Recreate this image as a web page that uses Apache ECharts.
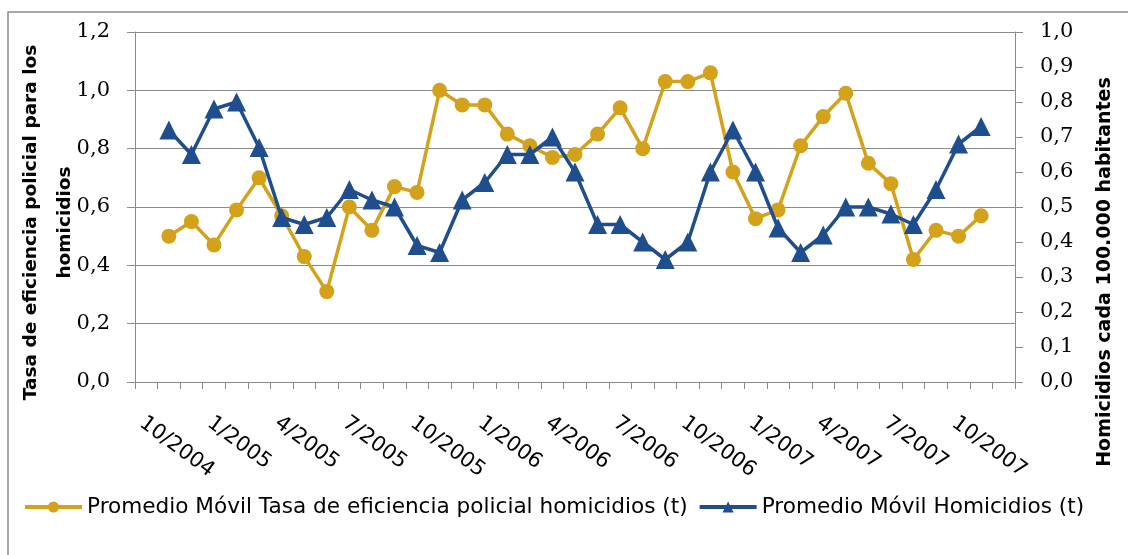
<!DOCTYPE html>
<html>
<head>
<meta charset="utf-8">
<script src="https://cdn.jsdelivr.net/npm/echarts@6/dist/echarts.min.js"></script>
<style>
  html, body { margin: 0; padding: 0; background: #ffffff; }
  #chart { width: 1128px; height: 555px; }
</style>
</head>
<body>
<div id="chart"></div>
<script>
// Monthly categories; the first and last months are empty slots at the axis ends.
const months = [
  '9/2004', '10/2004', '11/2004', '12/2004',
  '1/2005', '2/2005', '3/2005', '4/2005', '5/2005', '6/2005',
  '7/2005', '8/2005', '9/2005', '10/2005', '11/2005', '12/2005',
  '1/2006', '2/2006', '3/2006', '4/2006', '5/2006', '6/2006',
  '7/2006', '8/2006', '9/2006', '10/2006', '11/2006', '12/2006',
  '1/2007', '2/2007', '3/2007', '4/2007', '5/2007', '6/2007',
  '7/2007', '8/2007', '9/2007', '10/2007', '11/2007'
];

// Moving average of the police efficiency rate for homicides (left axis)
const eficiencia = [
  null,
  0.50, 0.55, 0.47, 0.59, 0.70, 0.57, 0.43, 0.31, 0.60, 0.52,
  0.67, 0.65, 1.00, 0.95, 0.95, 0.85, 0.81, 0.77, 0.78, 0.85,
  0.94, 0.80, 1.03, 1.03, 1.06, 0.72, 0.56, 0.59, 0.81, 0.91,
  0.99, 0.75, 0.68, 0.42, 0.52, 0.50, 0.57,
  null
];

// Moving average of homicides per 100,000 inhabitants (right axis)
const homicidios = [
  null,
  0.72, 0.65, 0.78, 0.80, 0.67, 0.47, 0.45, 0.47, 0.55, 0.52,
  0.50, 0.39, 0.37, 0.52, 0.57, 0.65, 0.65, 0.70, 0.60, 0.45,
  0.45, 0.40, 0.35, 0.40, 0.60, 0.72, 0.60, 0.44, 0.37, 0.42,
  0.50, 0.50, 0.48, 0.45, 0.55, 0.68, 0.73,
  null
];

const seriesNames = [
  'Promedio Móvil Tasa de eficiencia policial homicidios (t)',
  'Promedio Móvil Homicidios (t)'
];

const leftAxisName = 'Tasa de eficiencia policial para los\nhomicidios';
const rightAxisName = 'Homicidios cada 100.000 habitantes';

const GOLD = '#D4A11B';
const BLUE = '#1F4E8E';
const GRID_GRAY = '#8a8a8a';

const commaDecimal = v => v.toFixed(1).replace('.', ',');

const chart = echarts.init(document.getElementById('chart'), null, { renderer: 'canvas' });

chart.setOption({
  animation: false,
  backgroundColor: '#ffffff',
  grid: {
    left: 135, right: 113, top: 32, bottom: 173,
    containLabel: false,
    outerBoundsMode: 'none'
  },
  legend: {
    left: 23,
    top: 496,
    padding: 0,
    itemGap: 10,
    itemWidth: 57,
    itemHeight: 14,
    lineStyle: { width: 4 },
    textStyle: { fontFamily: 'DejaVu Sans', fontSize: 21.6, color: '#000', lineHeight: 22 },
    data: seriesNames
  },
  xAxis: {
    type: 'category',
    data: months,
    boundaryGap: true,
    axisLine: { show: true, lineStyle: { color: GRID_GRAY, width: 1 } },
    axisTick: { show: true, interval: 0, length: 7, lineStyle: { color: GRID_GRAY } },
    splitLine: { show: false },
    axisLabel: {
      interval: (index) => (index - 1) % 3 === 0,
      rotate: -36.5,
      align: 'left',
      verticalAlign: 'top',
      margin: 46,
      padding: [0, 0, 0, -26],
      fontFamily: 'DejaVu Sans',
      fontSize: 21,
      color: '#000'
    }
  },
  yAxis: [
    {
      type: 'value',
      position: 'left',
      min: 0, max: 1.2, interval: 0.2,
      name: leftAxisName,
      nameLocation: 'middle',
      nameRotate: 90,
      nameGap: 53,
      nameMoveOverlap: false,
      nameTextStyle: {
        fontFamily: 'DejaVu Sans', fontWeight: 'bold', fontSize: 18.5,
        color: '#000', lineHeight: 34, align: 'center',
        padding: [0, 31, 0, 0]
      },
      axisLine: { show: true, lineStyle: { color: GRID_GRAY, width: 1 } },
      axisTick: { show: true, length: 8, lineStyle: { color: GRID_GRAY } },
      splitLine: { show: true, lineStyle: { color: GRID_GRAY, width: 1 } },
      axisLabel: {
        formatter: commaDecimal,
        margin: 25,
        fontFamily: 'DejaVu Serif', fontSize: 21, color: '#000'
      }
    },
    {
      type: 'value',
      position: 'right',
      min: 0, max: 1.0, interval: 0.1,
      name: rightAxisName,
      nameLocation: 'middle',
      nameRotate: 90,
      nameGap: 78,
      nameMoveOverlap: false,
      nameTextStyle: {
        fontFamily: 'DejaVu Sans', fontWeight: 'bold', fontSize: 19,
        color: '#000', lineHeight: 24, align: 'center',
        padding: [0, 130, 0, 0]
      },
      axisLine: { show: true, lineStyle: { color: GRID_GRAY, width: 1 } },
      axisTick: { show: true, length: 8, lineStyle: { color: GRID_GRAY } },
      splitLine: { show: false },
      axisLabel: {
        formatter: commaDecimal,
        margin: 25,
        fontFamily: 'DejaVu Serif', fontSize: 21, color: '#000'
      }
    }
  ],
  series: [
    {
      name: seriesNames[0],
      type: 'line',
      yAxisIndex: 0,
      data: eficiencia,
      symbol: 'circle',
      symbolSize: 15,
      showAllSymbol: true,
      connectNulls: false,
      lineStyle: { color: GOLD, width: 3.5 },
      itemStyle: { color: GOLD },
      z: 2
    },
    {
      name: seriesNames[1],
      type: 'line',
      yAxisIndex: 1,
      data: homicidios,
      symbol: 'triangle',
      symbolSize: 19,
      showAllSymbol: true,
      connectNulls: false,
      lineStyle: { color: BLUE, width: 3.5 },
      itemStyle: { color: BLUE },
      z: 3
    }
  ],
  graphic: [
    {
      type: 'rect',
      silent: true,
      z: -1,
      shape: { x: 8, y: 12, width: 1140, height: 560 },
      style: { fill: 'none', stroke: '#8c8c8c', lineWidth: 1.5 }
    }
  ]
});
</script>
</body>
</html>
